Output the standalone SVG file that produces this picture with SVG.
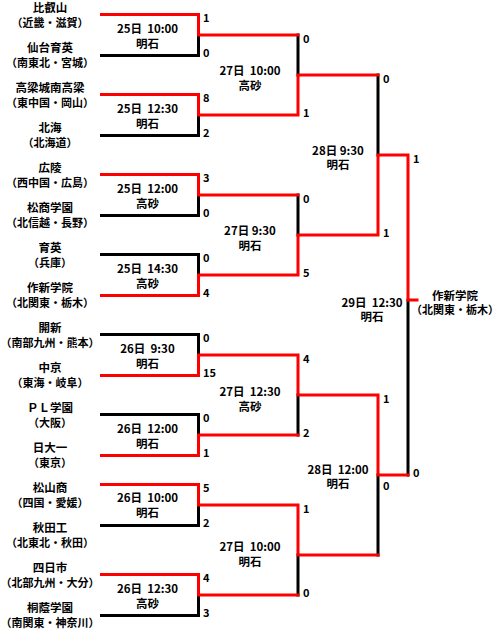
<svg xmlns="http://www.w3.org/2000/svg" width="500" height="630" viewBox="0 0 500 630">
<style>
text{font-family:"Noto Sans CJK JP","Noto Sans",sans-serif;font-weight:bold;fill:#000}
.t{font-size:11.5px;text-anchor:middle}
.p{font-size:11px;text-anchor:middle}
.m{font-size:11.5px;text-anchor:middle}
.s{font-size:11px;text-anchor:start}
.k{fill:none;stroke:#000;stroke-width:3;stroke-linecap:square;stroke-linejoin:miter}
.r{fill:none;stroke:#f00;stroke-width:3;stroke-linecap:square;stroke-linejoin:miter}
</style>
<rect width="500" height="630" fill="#fff"/>
<g id="connectors">
<path class="k" d="M101.5 55.5H198.5V35"/>
<path class="k" d="M101.5 135.5H198.5V115"/>
<path class="k" d="M101.5 215.5H198.5V195"/>
<path class="k" d="M101.5 254.5H198.5V275"/>
<path class="k" d="M101.5 334.5H198.5V355"/>
<path class="k" d="M101.5 414.5H198.5V435"/>
<path class="k" d="M101.5 525.5H198.5V505"/>
<path class="k" d="M101.5 615.5H198.5V595"/>
<path class="k" d="M298 35V75"/>
<path class="k" d="M298 195V235"/>
<path class="k" d="M298 435V395"/>
<path class="k" d="M298 595V555"/>
<path class="k" d="M378 75V155"/>
<path class="k" d="M378 555V475"/>
<path class="k" d="M408 475V300"/>
<path class="r" d="M101.5 14.5H198.5V35H298"/>
<path class="r" d="M101.5 94.5H198.5V115H298V75H378"/>
<path class="r" d="M101.5 174.5H198.5V195H298"/>
<path class="r" d="M101.5 295.5H198.5V275H298V235H378V155H408V300H417"/>
<path class="r" d="M101.5 375.5H198.5V355H298V395H378V475H408"/>
<path class="r" d="M101.5 455.5H198.5V435H298"/>
<path class="r" d="M101.5 484.5H198.5V505H298V555H378"/>
<path class="r" d="M101.5 574.5H198.5V595H298"/>
</g>
<g id="team-hieizan"><text class="t" x="50" y="12">比叡山</text><text class="p" x="50" y="27">（近畿・滋賀）</text></g>
<g id="team-sendai"><text class="t" x="50" y="52">仙台育英</text><text class="p" x="50" y="67">（南東北・宮城）</text></g>
<g id="team-takahashi"><text class="t" x="50" y="92">高梁城南高梁</text><text class="p" x="50" y="107">（東中国・岡山）</text></g>
<g id="team-hokkai"><text class="t" x="50" y="132">北海</text><text class="p" x="50" y="147">（北海道）</text></g>
<g id="team-koryo"><text class="t" x="50" y="172">広陵</text><text class="p" x="50" y="187">（西中国・広島）</text></g>
<g id="team-matsusho"><text class="t" x="50" y="212">松商学園</text><text class="p" x="50" y="227">（北信越・長野）</text></g>
<g id="team-ikuei"><text class="t" x="50" y="252">育英</text><text class="p" x="50" y="267">（兵庫）</text></g>
<g id="team-sakushin"><text class="t" x="50" y="292">作新学院</text><text class="p" x="50" y="307">（北関東・栃木）</text></g>
<g id="team-kaishin"><text class="t" x="50" y="332">開新</text><text class="p" x="50" y="347">（南部九州・熊本）</text></g>
<g id="team-chukyo"><text class="t" x="50" y="372">中京</text><text class="p" x="50" y="387">（東海・岐阜）</text></g>
<g id="team-pl"><text class="t" x="50" y="412">ＰＬ学園</text><text class="p" x="50" y="427">（大阪）</text></g>
<g id="team-nichidai"><text class="t" x="50" y="452">日大一</text><text class="p" x="50" y="467">（東京）</text></g>
<g id="team-matsuyama"><text class="t" x="50" y="492">松山商</text><text class="p" x="50" y="507">（四国・愛媛）</text></g>
<g id="team-akita"><text class="t" x="50" y="532">秋田工</text><text class="p" x="50" y="547">（北東北・秋田）</text></g>
<g id="team-yokkaichi"><text class="t" x="50" y="572">四日市</text><text class="p" x="50" y="587">（北部九州・大分）</text></g>
<g id="team-toin"><text class="t" x="50" y="612">桐蔭学園</text><text class="p" x="50" y="627">（南関東・神奈川）</text></g>
<g id="match-r1-1"><text class="m" x="147.5" y="33" xml:space="preserve">25日  10:00</text><text class="m" x="147.5" y="47.5">明石</text><text class="s" x="203" y="22">1</text><text class="s" x="203" y="57">0</text></g>
<g id="match-r1-2"><text class="m" x="147.5" y="113" xml:space="preserve">25日  12:30</text><text class="m" x="147.5" y="127.5">明石</text><text class="s" x="203" y="102">8</text><text class="s" x="203" y="137">2</text></g>
<g id="match-r1-3"><text class="m" x="147.5" y="193" xml:space="preserve">25日  12:00</text><text class="m" x="147.5" y="207.5">高砂</text><text class="s" x="203" y="182">3</text><text class="s" x="203" y="217">0</text></g>
<g id="match-r1-4"><text class="m" x="147.5" y="273" xml:space="preserve">25日  14:30</text><text class="m" x="147.5" y="287.5">高砂</text><text class="s" x="203" y="262">0</text><text class="s" x="203" y="297">4</text></g>
<g id="match-r1-5"><text class="m" x="147.5" y="353" xml:space="preserve">26日  9:30</text><text class="m" x="147.5" y="367.5">明石</text><text class="s" x="203" y="342">0</text><text class="s" x="203" y="377">15</text></g>
<g id="match-r1-6"><text class="m" x="147.5" y="433" xml:space="preserve">26日  12:00</text><text class="m" x="147.5" y="447.5">明石</text><text class="s" x="203" y="422">0</text><text class="s" x="203" y="457">1</text></g>
<g id="match-r1-7"><text class="m" x="147.5" y="501.5" xml:space="preserve">26日  10:00</text><text class="m" x="147.5" y="516.5">明石</text><text class="s" x="203" y="492">5</text><text class="s" x="203" y="527">2</text></g>
<g id="match-r1-8"><text class="m" x="147.5" y="593" xml:space="preserve">26日  12:30</text><text class="m" x="147.5" y="607.5">高砂</text><text class="s" x="203" y="582">4</text><text class="s" x="203" y="617">3</text></g>
<g id="match-r2-1"><text class="m" x="250" y="75" xml:space="preserve">27日  10:00</text><text class="m" x="250" y="89.5">高砂</text><text class="s" x="303" y="43">0</text><text class="s" x="303" y="117">1</text></g>
<g id="match-r2-2"><text class="m" x="250" y="235" xml:space="preserve">27日 9:30</text><text class="m" x="250" y="249.5">明石</text><text class="s" x="303" y="203">0</text><text class="s" x="303" y="277">5</text></g>
<g id="match-r2-3"><text class="m" x="250" y="396" xml:space="preserve">27日  12:30</text><text class="m" x="250" y="411">高砂</text><text class="s" x="303" y="363">4</text><text class="s" x="303" y="437">2</text></g>
<g id="match-r2-4"><text class="m" x="250" y="551" xml:space="preserve">27日  10:00</text><text class="m" x="250" y="565.5">明石</text><text class="s" x="303" y="513">1</text><text class="s" x="303" y="597">0</text></g>
<g id="match-r3-1"><text class="m" x="338" y="154.5" xml:space="preserve">28日 9:30</text><text class="m" x="338" y="169">明石</text><text class="s" x="383" y="83">0</text><text class="s" x="383" y="237">1</text></g>
<g id="match-r3-2"><text class="m" x="338" y="473.5" xml:space="preserve">28日  12:00</text><text class="m" x="338" y="488">明石</text><text class="s" x="383" y="403">1</text><text class="s" x="383" y="490">0</text></g>
<g id="match-final"><text class="m" x="372" y="306.5" xml:space="preserve">29日  12:30</text><text class="m" x="372" y="321">明石</text><text class="s" x="413" y="163">1</text><text class="s" x="413" y="477">0</text></g>
<g id="champion"><text class="t" x="455" y="299.5">作新学院</text><text class="p" x="455" y="314">（北関東・栃木）</text></g>
</svg>
